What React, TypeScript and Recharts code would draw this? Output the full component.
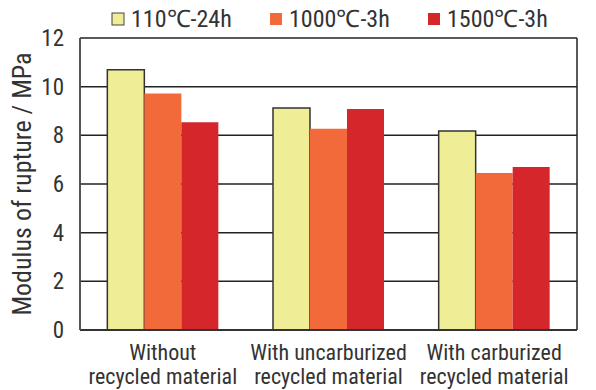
import React from 'react';
import { BarChart, Bar, XAxis, YAxis, CartesianGrid, ReferenceLine } from 'recharts';

const categories = ['Without|recycled material', 'With uncarburized|recycled material', 'With carburized|recycled material'];
const s110 = [10.7, 9.12, 8.18];
const s1000 = [9.72, 8.27, 6.45];
const s1500 = [8.54, 9.08, 6.7];
const yTicks = [0, 2, 4, 6, 8, 10, 12];
const yMax = 12;
const seriesNames = ['110℃-24h', '1000℃-3h', '1500℃-3h'];

const data = categories.map((c, i) => ({ cat: c, a: s110[i], b: s1000[i], c: s1500[i] }));

const FONT = '"Liberation Sans Narrow", "Roboto Condensed", Roboto, sans-serif';
const TEXT = '#333';

const XTick = (props: any) => {
  const { x, y, payload } = props;
  const lines = String(payload.value).split('|');
  return (
    <g>
      {lines.map((l, i) => (
        <text key={i} x={x} y={y + 22 + i * 24} textAnchor="middle" fontSize={22} fill={TEXT} fontFamily={FONT}>
          {l}
        </text>
      ))}
    </g>
  );
};

const legendColors = [
  { fill: '#EFEE96', stroke: '#444' },
  { fill: '#F26A3A', stroke: 'none' },
  { fill: '#D4262B', stroke: 'none' },
];

const LegendBox = () => {
  const xs = [112, 270, 428];
  return (
    <svg width={596} height={40} style={{ position: 'absolute', left: 0, top: 0, overflow: 'visible' }}>
      {seriesNames.map((n, i) => (
        <g key={n}>
          <rect x={xs[i]} y={13} width={12} height={12} fill={legendColors[i].fill} stroke={legendColors[i].stroke} strokeWidth={1} />
          <text x={xs[i] + 19} y={27} fontSize={24} fill={TEXT} fontFamily={FONT}>{n}</text>
        </g>
      ))}
    </svg>
  );
};

const vGen = ({ offset }: any) => [offset.left, offset.left + offset.width];

export default function App() {
  return (
    <div style={{ position: 'absolute', left: 0, top: 0, width: 596, height: 390 }}>
      <BarChart
        width={596}
        height={390}
        data={data}
        margin={{ top: 38, right: 19, bottom: 0, left: 0 }}
        barCategoryGap="16.5%"
        barGap={0}
      >
        <CartesianGrid
          horizontal={false}
          vertical
          stroke="#222"
          strokeWidth={1.5}
          verticalCoordinatesGenerator={vGen}
        />
        {yTicks.map((t) => (
          <ReferenceLine key={t} y={t} stroke="#222" strokeWidth={1.5} zIndex={-50} />
        ))}
        <XAxis
          dataKey="cat"
          height={60}
          tick={<XTick />}
          tickLine={false}
          axisLine={{ stroke: '#333', strokeWidth: 2 }}
          interval={0}
        />
        <YAxis
          width={80}
          domain={[0, yMax]}
          ticks={yTicks}
          tickLine={false}
          axisLine={{ stroke: '#555', strokeWidth: 1.5 }}
          tick={{ fontSize: 23, fill: TEXT, fontFamily: FONT }}
          tickMargin={10}
          label={{
            value: 'Modulus of rupture / MPa',
            angle: -90,
            position: 'insideLeft',
            offset: 22,
            style: { textAnchor: 'middle', fontSize: 26, fill: TEXT, fontFamily: FONT },
          }}
        />
        <Bar dataKey="a" name={seriesNames[0]} fill="#EFEE96" stroke="#333" strokeWidth={1.5} isAnimationActive={false} />
        <Bar dataKey="b" name={seriesNames[1]} fill="#F26A3A" isAnimationActive={false} />
        <Bar dataKey="c" name={seriesNames[2]} fill="#D4262B" isAnimationActive={false} />
      </BarChart>
      <LegendBox />
    </div>
  );
}
